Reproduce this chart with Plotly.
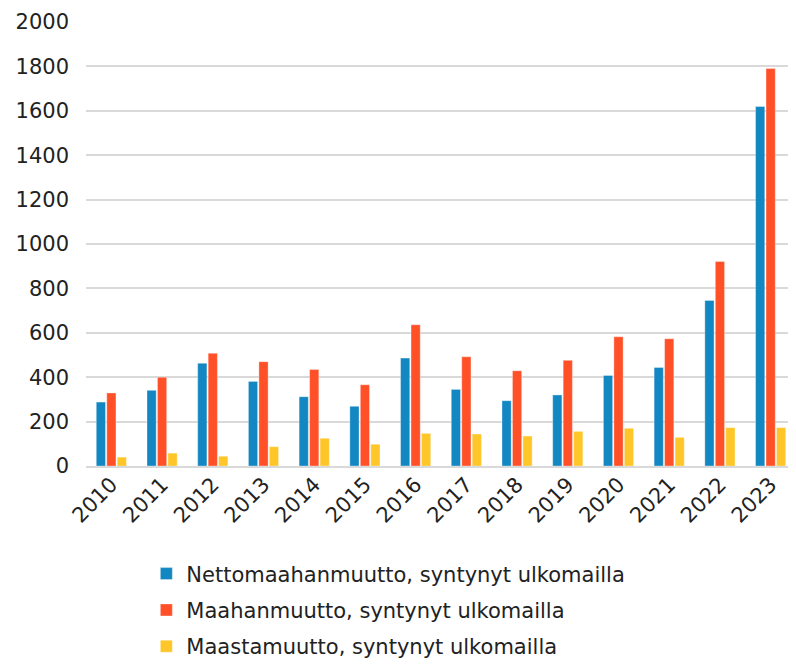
import plotly.graph_objects as go

years = ["2010", "2011", "2012", "2013", "2014", "2015", "2016", "2017", "2018", "2019", "2020", "2021", "2022", "2023"]
netto = [288, 341, 463, 381, 312, 269, 486, 345, 294, 320, 408, 444, 746, 1619]
maahan = [329, 400, 508, 470, 435, 366, 636, 492, 429, 476, 582, 573, 921, 1790]
maastam = [40, 58, 44, 87, 125, 98, 147, 144, 135, 156, 170, 129, 173, 173]

names = ["Nettomaahanmuutto, syntynyt ulkomailla",
         "Maahanmuutto, syntynyt ulkomailla",
         "Maastamuutto, syntynyt ulkomailla"]
colors = ["#1287C2", "#FF5028", "#FFC629"]

fig = go.Figure()
for i, (name, vals, col) in enumerate(zip(names, [netto, maahan, maastam], colors)):
    fig.add_trace(go.Bar(x=years, y=vals, name=name, legendgroup=f"g{i}",
                         marker=dict(color=col, line=dict(color="rgba(255,255,255,0.35)", width=1))))

# page body has an 8px default margin, so the figure is sized to fill the rest of the window
fig.update_layout(
    width=788, height=656,
    margin=dict(l=78, r=0, t=14, b=198, autoexpand=False),
    paper_bgcolor="white", plot_bgcolor="white",
    barmode="group", bargap=0.38, bargroupgap=0.12,
    font=dict(family="DejaVu Sans, sans-serif", color="#222222", size=20),
    yaxis=dict(range=[0, 2000], dtick=200, showgrid=True, gridcolor="#d9d9d9", gridwidth=2,
               zeroline=False, showline=False, ticks="", ticklabelstandoff=16,
               tickfont=dict(size=21), automargin=False),
    xaxis=dict(tickangle=-45, showline=True, linecolor="#d9d9d9", linewidth=2, ticks="",
               tickfont=dict(size=21), automargin=False, ticklabelstandoff=-4),
    legend=dict(orientation="v", x=0.085, xanchor="left", y=-0.197, yanchor="top",
                font=dict(size=21, color="#222222"), tracegroupgap=6, itemwidth=30),
    showlegend=True,
)
fig.write_html("out.html")
